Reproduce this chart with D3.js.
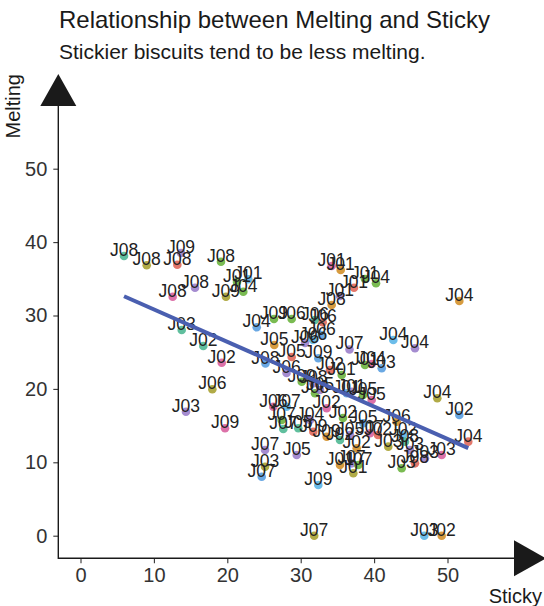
<!DOCTYPE html>
<html>
<head>
<meta charset="utf-8">
<script src="https://cdn.jsdelivr.net/npm/d3@7"></script>
<style>
  html, body { margin: 0; padding: 0; background: #fff; }
  svg { display: block; font-family: "Liberation Sans", Arial, Helvetica, sans-serif; }
</style>
</head>
<body>
<svg id="chart" width="544" height="606"></svg>
<script>
// Judge who scored each biscuit
const judges = [
  "J08","J08","J09","J08","J08","J08","J08","J09","J04","J01",
  "J01","J03","J02","J04","J02","J06","J03","J09","J01","J01",
  "J01","J04","J01","J01","J08","J04","J09","J06","J06","J06",
  "J06","J06","J06","J05","J05","J09","J07","J04","J04","J08",
  "J06","J02","J01","J04","J01","J03","J09","J08","J06","J05",
  "J01","J01","J05","J05","J06","J07","J02","J04","J02","J04",
  "J06","J05","J07","J02","J02","J03","J08","J03","J03","J03",
  "J03","J08","J07","J05","J07","J04","J09","J09","J02","J02",
  "J05","J07","J05","J03","J07","J09","J01","J07","J07","J01",
  "J02","J07","J03","J02"
];
// Sticky score (x)
const sticky = [
  5.93, 9.02, 13.69, 13.19, 19.14, 15.60, 12.56, 19.82, 22.18, 22.86,
  21.32, 13.79, 16.73, 24.01, 19.24, 17.96, 14.37, 19.69, 34.22, 35.45,
  38.76, 40.26, 37.26, 35.35, 34.22, 51.61, 26.36, 28.77, 31.95, 33.00,
  32.86, 31.68, 30.59, 26.40, 28.77, 32.40, 36.65, 42.62, 45.57, 25.20,
  28.07, 33.99, 35.59, 39.67, 38.76, 41.04, 30.14, 31.72, 31.95, 32.63,
  36.95, 36.27, 39.67, 38.49, 26.27, 28.09, 33.54, 48.61, 51.61, 52.83,
  43.08, 38.53, 39.44, 40.53, 43.94, 41.93, 44.21, 43.76, 44.89, 49.21,
  46.93, 45.57, 27.63, 29.67, 27.41, 31.27, 31.72, 33.54, 35.76, 35.35,
  36.72, 25.14, 29.46, 25.14, 24.69, 32.40, 35.35, 36.95, 37.85, 37.17,
  37.63, 31.84, 46.84, 49.21
];
// Melting score (y)
const melting = [
  38.11, 36.84, 38.51, 36.92, 37.33, 33.79, 32.56, 32.56, 33.24, 34.93,
  34.56, 28.02, 25.84, 28.39, 23.57, 19.95, 16.89, 14.63, 36.74, 36.20,
  34.97, 34.39, 33.79, 32.66, 31.43, 31.98, 29.52, 29.52, 29.39, 29.07,
  27.34, 26.66, 26.25, 25.98, 24.35, 24.17, 25.37, 26.66, 25.53, 23.46,
  22.17, 22.57, 21.89, 23.39, 23.26, 22.81, 20.98, 20.76, 19.40, 19.85,
  19.62, 19.40, 18.49, 19.17, 17.57, 17.57, 17.36, 18.72, 16.44, 12.81,
  15.53, 15.31, 13.95, 13.72, 13.72, 12.13, 12.81, 9.18, 11.68, 10.99,
  10.54, 9.86, 14.54, 14.63, 15.76, 15.76, 14.17, 13.49, 16.04, 13.04,
  13.72, 11.68, 10.99, 9.40, 8.04, 6.91, 9.63, 9.86, 9.63, 8.50,
  11.91, 0, 0, 0
];
// Biscuit (colour group) of each score
const biscuit = [
  "T","O","P","R","G","P","K","O","G","L",
  "G","T","T","B","K","O","P","K","K","Or",
  "G","G","R","P","Or","Or","G","G","T","R",
  "B","L","P","Or","R","B","P","L","P","B",
  "P","R","G","K","G","B","G","P","G","P",
  "P","B","K","G","K","L","K","O","B","R",
  "Or","B","K","R","L","O","T","G","P","K",
  "P","R","T","T","G","P","R","Or","G","T",
  "P","P","P","O","B","L","Or","P","G","O",
  "Or","O","L","Or"
];
const biscuitKeys   = ["T","O","R","G","P","K","Or","B","L"];
const biscuitColors = ["#4fb894","#a9a233","#e0685b","#6bb43f","#9b7fcb","#d8629f","#d3902a","#5a9fe0","#5cb6e8"];

const xTicks = [0, 10, 20, 30, 40, 50];
const yTicks = [0, 10, 20, 30, 40, 50];

const titleText = "Relationship between Melting and Sticky";
const subtitleText = "Stickier biscuits tend to be less melting.";
const xTitle = "Sticky";
const yTitle = "Melting";

const svg = d3.select("#chart");

const x = d3.scaleLinear().domain([0, 50]).range([80.5, 447.5]);
const y = d3.scaleLinear().domain([0, 50]).range([535.7, 168.7]);
const colour = d3.scaleOrdinal().domain(biscuitKeys).range(biscuitColors);

const axisX = 58.3, axisY = 558.3;
const ink = "#1a1a1a";

// Titles
svg.append("text").attr("x", 59).attr("y", 28)
  .attr("font-size", 24).attr("fill", ink).text(titleText);
svg.append("text").attr("x", 59).attr("y", 59)
  .attr("font-size", 21).attr("fill", ink).text(subtitleText);

// Tick marks and tick labels
const gx = svg.append("g").attr("transform", `translate(0,${axisY})`)
  .call(d3.axisBottom(x).tickValues(xTicks).tickSize(5).tickSizeOuter(0).tickPadding(5));
gx.select(".domain").remove();
gx.selectAll("text").attr("font-size", 20).attr("fill", "#333").attr("font-family", null);
gx.selectAll("line").attr("stroke", "#333").attr("stroke-width", 1.1);

const gy = svg.append("g").attr("transform", `translate(${axisX},0)`)
  .call(d3.axisLeft(y).tickValues(yTicks).tickSize(5).tickSizeOuter(0).tickPadding(6));
gy.select(".domain").remove();
gy.selectAll("text").attr("font-size", 20).attr("fill", "#333").attr("font-family", null);
gy.selectAll("line").attr("stroke", "#333").attr("stroke-width", 1.1);

// Axis lines with arrow heads
svg.append("path")
  .attr("d", `M${axisX},106 V${axisY} H514`)
  .attr("fill", "none").attr("stroke", ink).attr("stroke-width", 1.4);
svg.append("path")
  .attr("d", `M${axisX},74 L${axisX - 18},106 L${axisX + 18},106 Z`)
  .attr("fill", ink);
svg.append("path")
  .attr("d", `M546,${axisY} L514,${axisY - 18} L514,${axisY + 18} Z`)
  .attr("fill", ink);

// Axis titles
svg.append("text")
  .attr("transform", "translate(20,74) rotate(-90)")
  .attr("text-anchor", "end").attr("font-size", 20).attr("fill", ink)
  .text(yTitle);
svg.append("text").attr("x", 542).attr("y", 603)
  .attr("text-anchor", "end").attr("font-size", 20).attr("fill", ink)
  .text(xTitle);

const pts = judges.map((j, i) => ({ judge: j, sx: sticky[i], my: melting[i], b: biscuit[i] }));

// Points
svg.append("g").selectAll("circle").data(pts).join("circle")
  .attr("cx", d => x(d.sx)).attr("cy", d => y(d.my)).attr("r", 4.3)
  .attr("fill", d => colour(d.b)).attr("fill-opacity", 0.9);

// Judge labels
svg.append("g").selectAll("text").data(pts).join("text")
  .attr("x", d => x(d.sx)).attr("y", d => y(d.my))
  .attr("text-anchor", "middle").attr("font-size", 17.5).attr("fill", "#222")
  .text(d => d.judge);

// Least-squares trend of Melting on Sticky over the observed range
const mx = d3.mean(sticky), my = d3.mean(melting);
const slope = d3.sum(sticky, (v, i) => (v - mx) * (melting[i] - my)) /
              d3.sum(sticky, v => (v - mx) * (v - mx));
const intercept = my - slope * mx;
const [x0, x1] = d3.extent(sticky);
svg.append("line")
  .attr("x1", x(x0)).attr("y1", y(intercept + slope * x0))
  .attr("x2", x(x1)).attr("y2", y(intercept + slope * x1))
  .attr("stroke", "#4a5fb0").attr("stroke-width", 4);
</script>
</body>
</html>
